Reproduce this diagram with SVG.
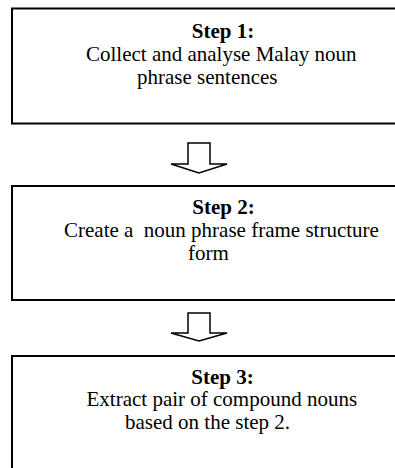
<svg xmlns="http://www.w3.org/2000/svg" width="395" height="468" viewBox="0 0 395 468">
<style>
.box{fill:#fff;stroke:#000;stroke-width:2}
.t{font-family:"Liberation Serif","Times New Roman",serif;font-size:21px;fill:#000;white-space:pre}
.b{font-weight:bold}
.arrow{fill:#fff;stroke:#000;stroke-width:1.5;stroke-linejoin:miter}
</style>
<rect width="395" height="468" fill="#fff"/>
<g id="step1">
<rect class="box" x="12" y="8.5" width="400" height="115"/>
<text class="t b" x="223" y="38" text-anchor="middle">Step 1:</text>
<text class="t" x="86" y="61">Collect and analyse Malay noun</text>
<text class="t" x="137" y="83.5">phrase sentences</text>
</g>
<g id="step2">
<rect class="box" x="12" y="186" width="400" height="114"/>
<text class="t b" x="223.5" y="214" text-anchor="middle">Step 2:</text>
<text class="t" x="64" y="236.5" xml:space="preserve">Create a  noun phrase frame structure</text>
<text class="t" x="188" y="259.5">form</text>
</g>
<g id="step3">
<rect class="box" x="12" y="356" width="400" height="130"/>
<text class="t b" x="222.5" y="383.5" text-anchor="middle">Step 3:</text>
<text class="t" x="86.5" y="406">Extract pair of compound nouns</text>
<text class="t" x="125" y="428.5">based on the step 2.</text>
</g>
<g id="connectors">
<polygon class="arrow" points="188,143 210,143 210,164 227,164 199,173 171,164 188,164"/>
<polygon class="arrow" points="188,313 210,313 210,333 227,333 199,341 171,333 188,333"/>
</g>
</svg>
